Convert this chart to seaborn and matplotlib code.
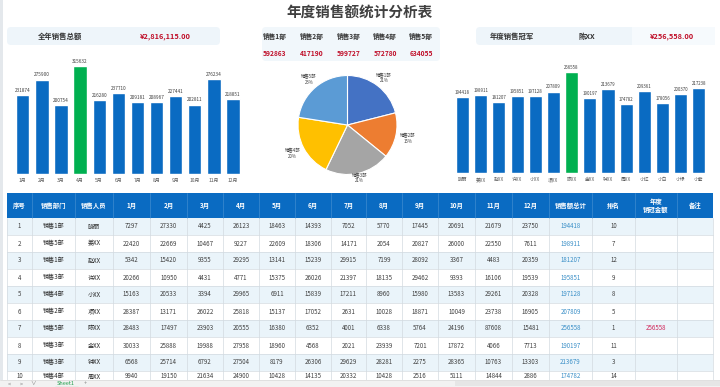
import numpy as np
import pandas as pd
import matplotlib
matplotlib.use("Agg")
import matplotlib.pyplot as plt
import seaborn as sns
from matplotlib.patches import Rectangle, FancyBboxPatch

# ---------------- data ----------------
title = "年度销售额统计分析表"
months = ["1月", "2月", "3月", "4月", "5月", "6月", "7月", "8月", "9月", "10月", "11月", "12月"]
month_totals = [231874, 275900, 200754, 315632, 216280, 237710, 209181, 208967,
                227441, 202811, 276234, 218851]
total_label = "全年销售总额"
total_value = "¥2,816,115.00"

depts = ["销售1部", "销售2部", "销售3部", "销售4部", "销售5部"]
dept_totals = [592863, 417190, 599727, 572780, 634055]

people = ["晓丽", "姜XX", "赵XX", "许XX", "小XX", "项XX", "陈XX", "金XX", "钟XX",
          "周XX", "小红", "小白", "小绿", "小紫"]
person_totals = [194418, 198911, 181207, 195851, 197128, 207809, 256558, 190197,
                 213679, 174782, 209361, 178056, 200370, 217238]
champ_label = "年度销售冠军"
champ_name = "陈XX"
champ_value = "¥256,558.00"

headers = ["序号", "销售部门", "销售人员"] + months + ["销售额总计", "排名", "年度\n销冠金额", "备注"]
row_seq = [1, 2, 3, 4, 5, 6, 7, 8, 9, 10]
row_dept = ["销售1部", "销售5部", "销售1部", "销售3部", "销售4部", "销售2部", "销售5部",
            "销售3部", "销售3部", "销售4部"]
row_person = ["晓丽", "姜XX", "赵XX", "许XX", "小XX", "项XX", "陈XX", "金XX", "钟XX", "周XX"]
row_monthly = [
    [7297, 27330, 4425, 26123, 18463, 14393, 7052, 5770, 17445, 20691, 21679, 23750],
    [22420, 22669, 10467, 9227, 22609, 18306, 14171, 2054, 20827, 26000, 22550, 7611],
    [5342, 15420, 9355, 29295, 13141, 15239, 29915, 7199, 28092, 3367, 4483, 20359],
    [20266, 10950, 4431, 4771, 15375, 26026, 21397, 18135, 29462, 9393, 16106, 19539],
    [15163, 20533, 3394, 29965, 6911, 15839, 17211, 8960, 15980, 13583, 29261, 20328],
    [28387, 13171, 26022, 25818, 15137, 17052, 2631, 10028, 18871, 10049, 23738, 16905],
    [28483, 17497, 23903, 20555, 16380, 6352, 4001, 6338, 5764, 24196, 87608, 15481],
    [30033, 25888, 19988, 27958, 18960, 4568, 2021, 23939, 7201, 17872, 4066, 7713],
    [6568, 25714, 6792, 27504, 8179, 26306, 29629, 28281, 2275, 28365, 10763, 13303],
    [9940, 19150, 21634, 24900, 10428, 14135, 20332, 10428, 2516, 5111, 14844, 2886],
]
row_total = [194418, 198911, 181207, 195851, 197128, 207809, 256558, 190197, 213679, 174782]
row_rank = [10, 7, 12, 9, 8, 5, 1, 11, 3, 14]
row_champ = ["", "", "", "", "", "", "256558", "", "", ""]

# ---------------- style ----------------
sns.set_style("white")
plt.rcParams['font.family'] = ['Noto Sans CJK SC', 'DejaVu Sans']

BLUE = "#0A6BC2"
GREEN = "#00B050"
RED = "#C0102A"
W, H = 720, 387

fig = plt.figure(figsize=(7.2, 3.87), dpi=100)
fig.patch.set_facecolor("white")

def px_axes(x0, y0, x1, y1):
    """axes from pixel box (top-left origin)"""
    return fig.add_axes([x0 / W, (H - y1) / H, (x1 - x0) / W, (y1 - y0) / H])

bg = fig.add_axes([0, 0, 1, 1])
bg.set_xlim(0, W)
bg.set_ylim(H, 0)
bg.axis("off")

# left page edge
bg.add_patch(Rectangle((0, 0), 2.5, H, color="#E4E8EC", lw=0))

# title
bg.text(360, 13, title, ha="center", va="center", fontsize=10.5, fontweight="bold", color="#404040")

# header boxes
def box(x0, y0, x1, y1, fc="#EEF5FA"):
    bg.add_patch(FancyBboxPatch((x0, y0), x1 - x0, y1 - y0,
                                boxstyle="round,pad=0,rounding_size=4",
                                fc=fc, ec="none"))

box(7, 27, 220, 45)
bg.text(60, 36, total_label, ha="center", va="center", fontsize=5.3, fontweight="bold", color="#333333")
bg.text(165, 36, total_value, ha="center", va="center", fontsize=5.3, fontweight="bold", color=RED)

box(262, 27, 440, 61, fc="#F1F7FB")
dept_x = [275, 312, 349, 385, 421]
for dx, d, v in zip(dept_x, depts, dept_totals):
    bg.text(dx, 36, d, ha="center", va="center", fontsize=4.8, fontweight="bold", color="#333333")
    bg.text(dx, 54, f"{v}", ha="center", va="center", fontsize=4.8, fontweight="bold", color=RED)

box(476, 27, 715, 45)
bg.add_patch(Rectangle((632, 27), 83, 18, fc="#F6FAFD", ec="none"))
bg.text(512, 36, champ_label, ha="center", va="center", fontsize=5.3, fontweight="bold", color="#333333")
bg.text(587, 36, champ_name, ha="center", va="center", fontsize=5.3, fontweight="bold", color="#333333")
bg.text(672, 36, champ_value, ha="center", va="center", fontsize=5.3, fontweight="bold", color=RED)

# ---------------- table ----------------
edges = [7, 32, 75, 113, 150, 187, 223, 259, 295, 331, 366, 402, 438, 475, 512, 549, 592, 635, 677, 713]
hdr_top, hdr_bot = 193, 218
row_h = 17
bg.add_patch(Rectangle((edges[0], hdr_top), edges[-1] - edges[0], hdr_bot - hdr_top, fc=BLUE, ec="none"))
for j, h in enumerate(headers):
    cx = (edges[j] + edges[j + 1]) / 2
    bg.text(cx, (hdr_top + hdr_bot) / 2, h, ha="center", va="center", fontsize=4.6,
            fontweight="bold", color="white", linespacing=1.1)
    if 0 < j:
        bg.plot([edges[j], edges[j]], [hdr_top, hdr_bot], color="#3F8BD0", lw=0.5)

for i in range(len(row_seq)):
    top = hdr_bot + i * row_h
    fc = "#EAF4FA" if i % 2 == 0 else "white"
    bg.add_patch(Rectangle((edges[0], top), edges[-1] - edges[0], row_h, fc=fc, ec="none"))
    cells = [str(row_seq[i]), row_dept[i], row_person[i]] + [str(v) for v in row_monthly[i]] + \
            [str(row_total[i]), str(row_rank[i]), row_champ[i], ""]
    ty = top + row_h / 2 if i < 9 else 376.5
    for j, c in enumerate(cells):
        if not c:
            continue
        cx = (edges[j] + edges[j + 1]) / 2
        col = "#404040"
        if j in (1, 2):
            col = "#2B2B2B"
        if j == 15:
            col = "#3A8FC7"
        elif j == 17:
            col = "#D0275A"
        bg.text(cx, ty, c, ha="center", va="center", fontsize=4.4, color=col)
    bg.plot([edges[0], edges[-1]], [top + row_h, top + row_h], color="#D3DAE0", lw=0.5)
for e in edges:
    bg.plot([e, e], [hdr_bot, H], color="#D3DAE0", lw=0.5)

# sheet tab bar
bg.add_patch(Rectangle((0, 379.5), W, 7.5, fc="#F2F2F2", ec="none", zorder=5))
bg.plot([0, W], [379.5, 379.5], color="#D9D9D9", lw=0.5, zorder=6)
for tx, t in [(9, "<"), (21, ">"), (33, "∨"), (85, "+")]:
    bg.text(tx, 383.8, t, ha="center", va="center", fontsize=4.0, color="#7F7F7F", zorder=6)
bg.text(66, 383.8, "Sheet1", ha="center", va="center", fontsize=4.0, color="#1E9E4A", zorder=6)
bg.plot([55, 78], [386.5, 386.5], color="#1E9E4A", lw=0.8, zorder=6)
bg.add_patch(Rectangle((455, 381), 265, 4.5, fc="#E6E6E6", ec="none", zorder=6))

# ---------------- left bar chart ----------------
ax1 = px_axes(13.2, 54.2, 242.6, 174)
df1 = pd.DataFrame({"month": months, "total": month_totals})
max_m = df1["total"].max()
pal1 = [GREEN if v == max_m else BLUE for v in month_totals]
sns.barplot(data=df1, x="month", y="total", hue="month", palette=pal1, legend=False,
            width=0.7, saturation=1, ax=ax1)
for c in ax1.containers:
    ax1.bar_label(c, fmt="%d", fontsize=3.4, color="#404040", padding=1.5)
ax1.set_xlim(-0.5, len(months) - 0.5)
ax1.set_ylim(0, 350000)
ax1.set_xlabel("")
ax1.set_ylabel("")
ax1.set_yticks([])
ax1.tick_params(axis="x", length=0, labelsize=3.6, labelcolor="#595959", pad=3)
sns.despine(ax=ax1, left=True, top=True, right=True, bottom=True)
ax1.set_facecolor("none")

# ---------------- pie ----------------
cx, cy, r = 347.5, 125, 49.5
ax2 = px_axes(cx - r, cy - r, cx + r, cy + r)
pie_colors = ["#4472C4", "#ED7D31", "#A5A5A5", "#FFC000", "#5B9BD5"]
tot = sum(dept_totals)
plabels = [f"{d}\n{v / tot * 100:.0f}%" for d, v in zip(depts, dept_totals)]
wedges, texts = ax2.pie(dept_totals, colors=pie_colors, startangle=90, counterclock=False,
                        labels=plabels, labeldistance=1.0,
                        wedgeprops=dict(edgecolor="white", linewidth=0.8),
                        textprops=dict(fontsize=3.2, color="#404040"))
dists = [1.2, 1.25, 1.1, 1.25, 1.2]
for t, d in zip(texts, dists):
    x, y = t.get_position()
    t.set_position((x * d, y * d))
    t.set_ha("center")
    t.set_va("center")
    t.set_linespacing(1.1)
ax2.set_xlim(-1, 1)
ax2.set_ylim(-1, 1)
ax2.set_aspect("equal")

# ---------------- right bar chart ----------------
ax3 = px_axes(453.4, 55.4, 708, 173)
df3 = pd.DataFrame({"person": people, "total": person_totals})
max_p = df3["total"].max()
pal3 = [GREEN if v == max_p else BLUE for v in person_totals]
sns.barplot(data=df3, x="person", y="total", hue="person", palette=pal3, legend=False,
            width=0.72, saturation=1, ax=ax3)
for c in ax3.containers:
    ax3.bar_label(c, fmt="%d", fontsize=3.2, color="#404040", padding=1.5)
ax3.set_xlim(-0.5, len(people) - 0.5)
ax3.set_ylim(0, 300000)
ax3.set_xlabel("")
ax3.set_ylabel("")
ax3.set_yticks([])
ax3.tick_params(axis="x", length=0, labelsize=3.4, labelcolor="#595959", pad=3)
sns.despine(ax=ax3, left=True, top=True, right=True, bottom=True)
ax3.set_facecolor("none")

fig.savefig("out.png", dpi=100)
